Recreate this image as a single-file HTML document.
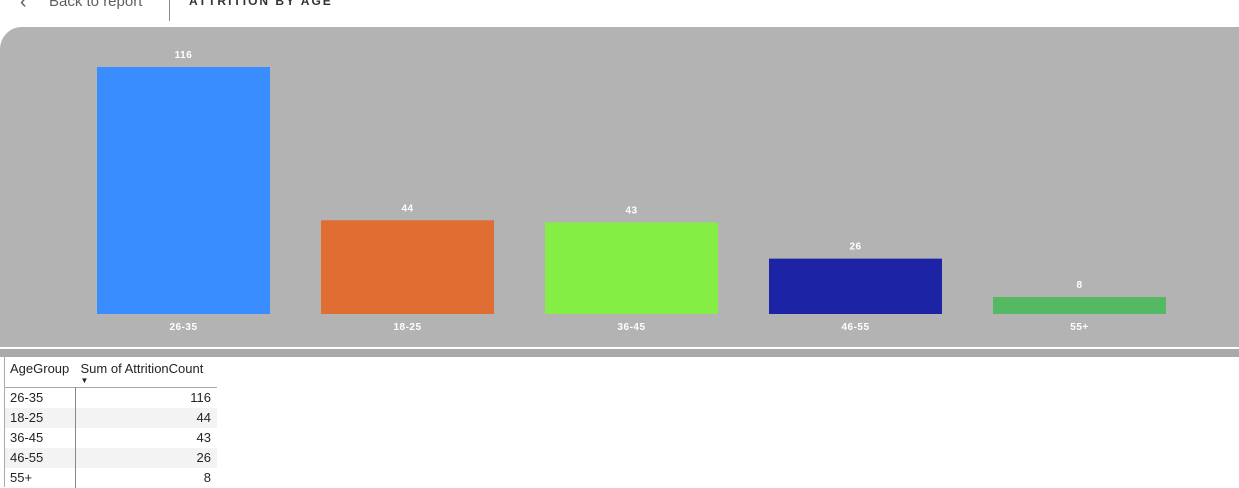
<!DOCTYPE html>
<html><head><meta charset="utf-8"><style>
body{margin:0;width:1239px;height:487px;overflow:hidden;background:#fff;font-family:"Liberation Sans",sans-serif;position:relative}
.abs{position:absolute}
td{padding:0 6px 0 5px;height:20px;font-size:13px;color:#252423}
</style></head><body>
<div class="abs" style="left:20px;top:-9px;font-size:20px;color:#605e5c;font-weight:100">&#8249;</div>
<div class="abs" style="left:49px;top:-7px;font-size:15px;color:#605e5c">Back to report</div>
<div class="abs" style="left:169px;top:0;width:1px;height:21px;background:#888"></div>
<div class="abs" style="left:189px;top:-6px;font-size:12px;font-weight:bold;letter-spacing:2px;color:#333">ATTRITION BY AGE</div>
<div class="abs" style="left:0;top:27px;width:1239px;height:320px;background:#b3b3b3;border-top-left-radius:22px"></div>
<div class="abs" style="left:0;top:349px;width:1239px;height:8px;background:#a9a9a9"></div>
<svg class="abs" id="chart" style="left:0;top:0" width="1239" height="347"></svg>
<div class="abs" style="left:4px;top:357px;width:1px;height:130px;background:#aaa"></div>
<table class="abs" style="left:5px;top:359px;border-collapse:collapse;width:212px">
<tr style="height:28px;vertical-align:top"><td style="padding-top:2px">AgeGroup</td><td style="padding-top:2px;position:relative">Sum of AttritionCount<span style="position:absolute;left:5px;top:17px;font-size:8px">&#9660;</span></td></tr>
<tbody id="tb"></tbody>
</table>
<script>
const categories=["26-35","18-25","36-45","46-55","55+"];
const values=[116,44,43,26,8];
const colors=["#3a8dff","#e06d32","#84ee45","#1c23a4","#55b963"];
const svg=document.getElementById('chart');const NS="http://www.w3.org/2000/svg";
const base=314,scale=247/116;
const x=i=>97+i*224, y=v=>base-v*scale;
categories.forEach((c,i)=>{
 const r=document.createElementNS(NS,'rect');
 
 
 r.setAttribute('x',x(i));r.setAttribute('y',y(values[i]));r.setAttribute('width',173);r.setAttribute('height',base-y(values[i]));r.setAttribute('fill',colors[i]);svg.appendChild(r);
 const t=document.createElementNS(NS,'text');
 
 
 t.setAttribute('x',x(i)+86.5);t.setAttribute('y',y(values[i])-9);t.setAttribute('text-anchor','middle');t.setAttribute('font-size','10');t.setAttribute('font-weight','bold');t.setAttribute('fill','#fff');t.setAttribute('font-family','Liberation Sans');t.setAttribute('letter-spacing','0.5');t.textContent=values[i];svg.appendChild(t);
 const l=document.createElementNS(NS,'text');
 
 
 l.setAttribute('x',x(i)+86.5);l.setAttribute('y',330);l.setAttribute('text-anchor','middle');l.setAttribute('font-size','10');l.setAttribute('font-weight','bold');l.setAttribute('fill','#fff');l.setAttribute('font-family','Liberation Sans');l.setAttribute('letter-spacing','0.5');l.textContent=c;svg.appendChild(l);
});
const tb=document.getElementById('tb');
categories.forEach((c,i)=>{
 const tr=document.createElement('tr');
 
 
 if(i%2)tr.style.background='#f3f3f3';
 if(i==0)tr.style.borderTop='1px solid #aaa';
 tr.innerHTML='<td style="border-right:1px solid #888;width:59px">'+c+'</td><td style="text-align:right">'+values[i]+'</td>';
 tb.appendChild(tr);
});
</script>
</body></html>
